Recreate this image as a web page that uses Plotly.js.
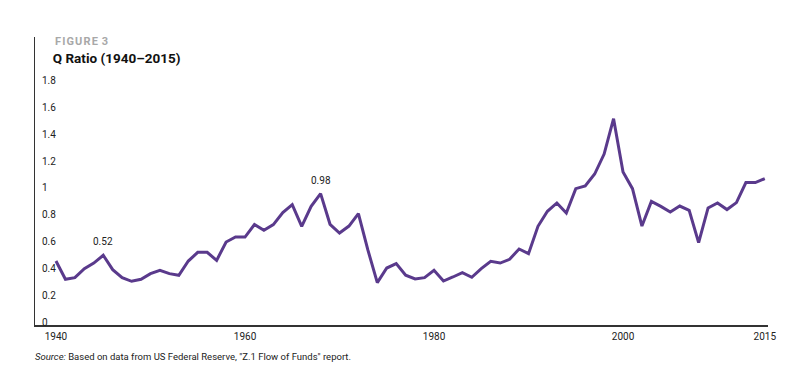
<!DOCTYPE html>
<html>
<head>
<meta charset="utf-8">
<script src="https://cdn.plot.ly/plotly-3.0.1.min.js"></script>
<style>html,body{margin:0;padding:0;background:#fff;}#chart{width:800px;height:382px;}</style>
</head>
<body>
<div id="chart"></div>
<script>
const years = [];
for (let y = 1940; y <= 2015; y++) years.push(y);

const qRatio = [
  0.477, 0.341, 0.353, 0.420, 0.462, 0.520, 0.413, 0.353, 0.326, 0.341,
  0.383, 0.408, 0.383, 0.371, 0.477, 0.542, 0.542, 0.482, 0.619, 0.656,
  0.656, 0.749, 0.706, 0.749, 0.838, 0.898, 0.736, 0.885, 0.980, 0.751,
  0.686, 0.738, 0.831, 0.560, 0.316, 0.425, 0.458, 0.371, 0.343, 0.353,
  0.408, 0.328, 0.358, 0.391, 0.356, 0.420, 0.475, 0.462, 0.490, 0.567,
  0.532, 0.736, 0.848, 0.910, 0.835, 1.017, 1.037, 1.126, 1.275, 1.539,
  1.141, 1.017, 0.738, 0.922, 0.885, 0.843, 0.887, 0.855, 0.614, 0.873,
  0.910, 0.861, 0.913, 1.062, 1.062, 1.092
];

const xTickVals = [1940, 1960, 1980, 2000, 2015];
const xTickText = ["1940", "1960", "1980", "2000", "2015"];
const yTickVals = [0, 0.2, 0.4, 0.6, 0.8, 1, 1.2, 1.4, 1.6, 1.8];
const yTickText = ["0", "0.2", "0.4", "0.6", "0.8", "1", "1.2", "1.4", "1.6", "1.8"];

const labelYears = [1945, 1968];
const labelText = ["0.52", "0.98"];

const FONT = "Roboto, 'Open Sans', sans-serif";
const HS = "\u200A";

const annotations = labelYears.map((yr, i) => ({
  x: yr, y: qRatio[years.indexOf(yr)], xref: "x", yref: "y",
  text: labelText[i], showarrow: false, yanchor: "bottom", yshift: 6,
  font: {family: FONT, size: 10, color: "#222"}
}));

annotations.push({
  xref: "paper", yref: "paper", x: 0.0246, y: 0.986, xanchor: "left", yanchor: "middle",
  text: "<b>" + ["F","I","G","U","R","E"].join(HS) + " " + HS + "3</b>", showarrow: false,
  font: {family: FONT, size: 11, color: "#a8a8a8"}
});
annotations.push({
  xref: "paper", yref: "paper", x: -0.003, y: -0.108, xanchor: "left", yanchor: "middle",
  text: "<i>Source:</i> Based on data from US Federal Reserve, \"Z.1 Flow of Funds\" report.",
  showarrow: false,
  font: {family: FONT, size: 9.5, color: "#222"}
});

const trace = {
  x: years, y: qRatio, type: "scatter", mode: "lines",
  line: {color: "#5a3a8c", width: 3}, hoverinfo: "skip"
};

const layout = {
  width: 800, height: 382,
  margin: {l: 35, r: 32, t: 37, b: 57},
  paper_bgcolor: "#fff", plot_bgcolor: "#fff",
  showlegend: false,
  title: {
    text: "<b>Q Ratio (1940–2015)</b>",
    x: 0.066, xanchor: "left", xref: "container",
    y: 0.848, yanchor: "middle", yref: "container",
    font: {family: FONT, size: 13.5, color: "#111"}
  },
  xaxis: {
    range: [1937.78, 2015.34],
    tickvals: xTickVals, ticktext: xTickText,
    showgrid: false, zeroline: false,
    showline: true, linecolor: "#333", linewidth: 1.5,
    ticks: "", ticklabelstandoff: 1,
    tickfont: {family: FONT, size: 10, color: "#222"}
  },
  yaxis: {
    range: [0, 2.148],
    tickvals: yTickVals, ticktext: yTickText,
    showgrid: false, zeroline: false,
    showline: true, linecolor: "#333", linewidth: 1.5,
    ticks: "", ticklabelposition: "inside", ticklabelshift: -3,
    ticklabelstandoff: 6, ticklabeloverflow: "allow",
    tickfont: {family: FONT, size: 10, color: "#222"}
  },
  annotations: annotations
};

Plotly.newPlot("chart", [trace], layout, {displayModeBar: false, staticPlot: true});
</script>
</body>
</html>
